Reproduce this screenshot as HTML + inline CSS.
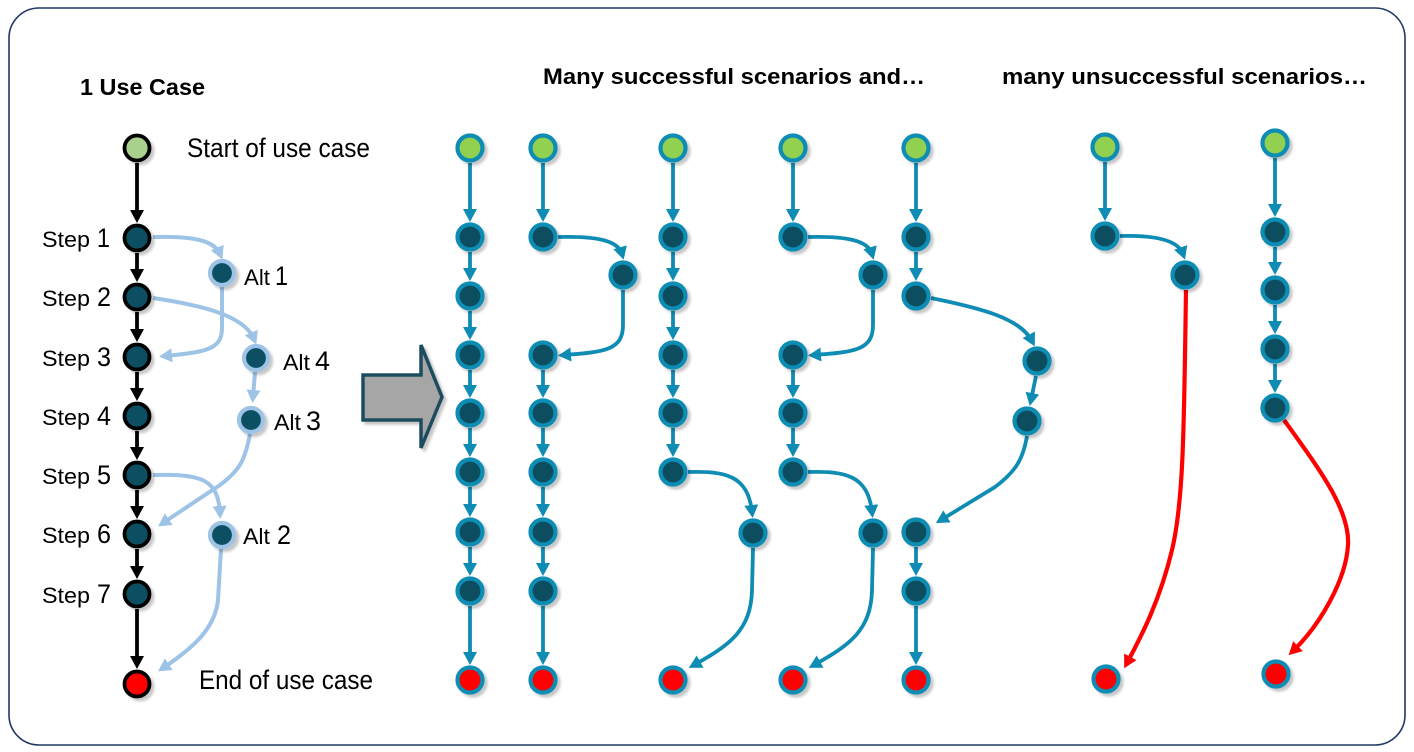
<!DOCTYPE html>
<html><head><meta charset="utf-8"><style>
html,body{margin:0;padding:0;background:#fff;}
svg{display:block;}
text{font-family:"Liberation Sans",Arial,sans-serif;fill:#000;}
.n{fill:#074e61;stroke:#0f8cb4;stroke-width:4.2;}
.g{fill:#92d050;stroke:#0f8cb4;stroke-width:4.2;}
.r{fill:#ff0000;stroke:#0f8cb4;stroke-width:4.2;}
.e{fill:none;stroke:#0f8cb4;stroke-width:3.8;marker-end:url(#mt);}
.k{fill:none;stroke:#000;stroke-width:3.8;marker-end:url(#mk);}
.lb{fill:none;stroke:#9dc3e6;stroke-width:4;marker-end:url(#ml);}
.rd{fill:none;stroke:#ff0000;stroke-width:4.2;marker-end:url(#mr);}
.bn{fill:#0c4f62;stroke:#000;stroke-width:3.8;}
.an{fill:#0c4f62;stroke:#9dc3e6;stroke-width:4.2;}
</style></head><body>
<svg width="1414" height="752" viewBox="0 0 1414 752" xmlns="http://www.w3.org/2000/svg">
<defs>
<filter id="sh" x="-60%" y="-60%" width="220%" height="220%"><feDropShadow dx="3" dy="3" stdDeviation="1.3" flood-color="#000" flood-opacity="0.22"/></filter>
<marker id="mt" viewBox="0 0 13 14" markerWidth="13" markerHeight="14" refX="7" refY="7" orient="auto" markerUnits="userSpaceOnUse"><path d="M0,0 L13,7 L0,14 z" fill="#0f8cb4"/></marker>
<marker id="mk" viewBox="0 0 13 14" markerWidth="13" markerHeight="14" refX="7" refY="7" orient="auto" markerUnits="userSpaceOnUse"><path d="M0,0 L13,7 L0,14 z" fill="#000"/></marker>
<marker id="ml" viewBox="0 0 13 14" markerWidth="13" markerHeight="14" refX="7" refY="7" orient="auto" markerUnits="userSpaceOnUse"><path d="M0,0 L13,7 L0,14 z" fill="#9dc3e6"/></marker>
<marker id="mr" viewBox="0 0 13 14" markerWidth="13" markerHeight="14" refX="7" refY="7" orient="auto" markerUnits="userSpaceOnUse"><path d="M0,0 L13,7 L0,14 z" fill="#ff0000"/></marker>
</defs>

<rect x="9" y="8" width="1396" height="737" rx="30" ry="30" fill="#fff" stroke="#1f3864" stroke-width="1.6"/>

<!-- Headers -->
<text x="80" y="95" font-size="23" font-weight="bold" textLength="125" lengthAdjust="spacingAndGlyphs">1 Use Case</text>
<text x="543" y="84" font-size="22" font-weight="bold" textLength="382" lengthAdjust="spacingAndGlyphs">Many successful scenarios and…</text>
<text x="1002" y="84" font-size="22" font-weight="bold" textLength="365" lengthAdjust="spacingAndGlyphs">many unsuccessful scenarios…</text>

<!-- Left column text -->
<text x="187" y="157" font-size="27" textLength="183" lengthAdjust="spacingAndGlyphs">Start of use case</text>
<text x="199" y="689" font-size="27" textLength="174" lengthAdjust="spacingAndGlyphs">End of use case</text>

<g font-size="22">
<text x="42" y="247" textLength="48" lengthAdjust="spacingAndGlyphs">Step</text>
<text x="42" y="306" textLength="48" lengthAdjust="spacingAndGlyphs">Step</text>
<text x="42" y="366" textLength="48" lengthAdjust="spacingAndGlyphs">Step</text>
<text x="42" y="425" textLength="48" lengthAdjust="spacingAndGlyphs">Step</text>
<text x="42" y="484" textLength="48" lengthAdjust="spacingAndGlyphs">Step</text>
<text x="42" y="543" textLength="48" lengthAdjust="spacingAndGlyphs">Step</text>
<text x="42" y="603" textLength="48" lengthAdjust="spacingAndGlyphs">Step</text>
<text x="244" y="285" textLength="26" lengthAdjust="spacingAndGlyphs">Alt</text>
<text x="283" y="370" textLength="27" lengthAdjust="spacingAndGlyphs">Alt</text>
<text x="274" y="430" textLength="27" lengthAdjust="spacingAndGlyphs">Alt</text>
<text x="243" y="544" textLength="27" lengthAdjust="spacingAndGlyphs">Alt</text>
</g>
<g font-size="27">
<text x="97" y="247" textLength="13" lengthAdjust="spacingAndGlyphs">1</text>
<text x="97" y="306" textLength="14" lengthAdjust="spacingAndGlyphs">2</text>
<text x="97" y="366" textLength="14" lengthAdjust="spacingAndGlyphs">3</text>
<text x="97" y="425" textLength="14" lengthAdjust="spacingAndGlyphs">4</text>
<text x="97" y="484" textLength="14" lengthAdjust="spacingAndGlyphs">5</text>
<text x="97" y="543" textLength="14" lengthAdjust="spacingAndGlyphs">6</text>
<text x="97" y="603" textLength="14" lengthAdjust="spacingAndGlyphs">7</text>
<text x="275" y="285" textLength="13" lengthAdjust="spacingAndGlyphs">1</text>
<text x="315" y="370" textLength="15" lengthAdjust="spacingAndGlyphs">4</text>
<text x="306" y="430" textLength="15" lengthAdjust="spacingAndGlyphs">3</text>
<text x="277" y="544" textLength="14" lengthAdjust="spacingAndGlyphs">2</text>
</g>

<!-- Left column edges -->
<path class="k" d="M137,163 L137,217"/>
<path class="k" d="M137,253 L137,276"/>
<path class="k" d="M137,312 L137,336"/>
<path class="k" d="M137,372 L137,395"/>
<path class="k" d="M137,431 L137,454"/>
<path class="k" d="M137,490 L137,513"/>
<path class="k" d="M137,549 L137,573"/>
<path class="k" d="M137,609 L137,663"/>

<path class="lb" d="M153,237 C192,236 214,240 220,254"/>
<path class="lb" d="M222,287 L222,328 C222,350 205,352 165,356"/>
<path class="lb" d="M153,298 C200,305 244,315 254,339"/>
<path class="lb" d="M255,372 L253,397"/>
<path class="lb" d="M250,434 C245,460 240,470 220,485 L163,523"/>
<path class="lb" d="M153,475 C200,474 218,478 220,513"/>
<path class="lb" d="M221,549 L218,600 C215,630 190,650 163,668"/>

<!-- Left nodes -->
<g filter="url(#sh)">
<circle cx="137" cy="148" r="12.5" fill="#a9d18e" stroke="#000" stroke-width="3.8"/>
<circle class="bn" cx="137" cy="238" r="12.5"/>
<circle class="bn" cx="137" cy="297" r="12.5"/>
<circle class="bn" cx="137" cy="357" r="12.5"/>
<circle class="bn" cx="137" cy="416" r="12.5"/>
<circle class="bn" cx="137" cy="475" r="12.5"/>
<circle class="bn" cx="137" cy="534" r="12.5"/>
<circle class="bn" cx="137" cy="594" r="12.5"/>
<circle cx="137" cy="684" r="12.5" fill="#ff0000" stroke="#000" stroke-width="3.8"/>
<circle class="an" cx="222" cy="273" r="12"/>
<circle class="an" cx="256" cy="358" r="12"/>
<circle class="an" cx="251" cy="420" r="12"/>
<circle class="an" cx="222" cy="535" r="12"/>
</g>

<!-- Big arrow -->
<path d="M363,375 L421,375 L421,345 L442,397 L421,448 L421,420 L363,420 Z" fill="#a6a6a6" stroke="#1f4e5f" stroke-width="3.5" stroke-linejoin="miter" filter="url(#sh)"/>

<!-- Column 1 x=470 -->
<path class="e" d="M470,163 L470,216"/>
<path class="e" d="M470,252 L470,275"/>
<path class="e" d="M470,311 L470,334"/>
<path class="e" d="M470,370 L470,392"/>
<path class="e" d="M470,428 L470,451"/>
<path class="e" d="M470,487 L470,511"/>
<path class="e" d="M470,547 L470,570"/>
<path class="e" d="M470,606 L470,659"/>

<!-- Column 2 x=543 -->
<path class="e" d="M543,163 L543,216"/>
<path class="e" d="M558,237 C595,236 618,240 622,254"/>
<path class="e" d="M623,290 L623,325 C623,350 605,352 564,355"/>
<path class="e" d="M543,370 L543,392"/>
<path class="e" d="M543,428 L543,451"/>
<path class="e" d="M543,487 L543,511"/>
<path class="e" d="M543,547 L543,570"/>
<path class="e" d="M543,606 L543,659"/>

<!-- Column 3 x=673 -->
<path class="e" d="M673,163 L673,216"/>
<path class="e" d="M673,252 L673,275"/>
<path class="e" d="M673,311 L673,334"/>
<path class="e" d="M673,370 L673,392"/>
<path class="e" d="M673,428 L673,451"/>
<path class="e" d="M688,472 C725,471 748,475 752,512"/>
<path class="e" d="M753,548 L752,590 C751,630 730,645 694,665"/>

<!-- Column 4 x=793 -->
<path class="e" d="M793,163 L793,216"/>
<path class="e" d="M808,237 C845,236 868,240 872,254"/>
<path class="e" d="M873,290 L873,325 C873,350 855,352 814,355"/>
<path class="e" d="M793,370 L793,392"/>
<path class="e" d="M793,428 L793,451"/>
<path class="e" d="M808,472 C845,471 868,475 872,512"/>
<path class="e" d="M873,548 L872,590 C871,630 850,645 814,665"/>

<!-- Column 5 x=916 -->
<path class="e" d="M916,163 L916,216"/>
<path class="e" d="M916,252 L916,275"/>
<path class="e" d="M931,298 C980,308 1020,318 1032,341"/>
<path class="e" d="M1036,376 L1031,400"/>
<path class="e" d="M1027,436 C1023,460 1015,472 995,487 L941,520"/>
<path class="e" d="M916,547 L916,570"/>
<path class="e" d="M916,606 L916,659"/>

<!-- Column 6 x=1105 -->
<path class="e" d="M1105,162 L1105,215"/>
<path class="e" d="M1120,236 C1155,235 1178,240 1183,254"/>
<path class="rd" d="M1186,290 C1184,420 1184,500 1172,550 C1160,600 1142,635 1127,663"/>

<!-- Column 7 x=1275 -->
<path class="e" d="M1275,158 L1275,211"/>
<path class="e" d="M1275,247 L1275,269"/>
<path class="e" d="M1275,305 L1275,328"/>
<path class="e" d="M1275,364 L1275,387"/>
<path class="rd" d="M1284,420 C1320,470 1350,510 1348,545 C1346,580 1320,625 1293,651"/>

<!-- Middle/right nodes -->
<g filter="url(#sh)">
<circle class="g" cx="470" cy="148" r="12.5"/>
<circle class="n" cx="470" cy="237" r="12.5"/>
<circle class="n" cx="470" cy="296" r="12.5"/>
<circle class="n" cx="470" cy="355" r="12.5"/>
<circle class="n" cx="470" cy="413" r="12.5"/>
<circle class="n" cx="470" cy="472" r="12.5"/>
<circle class="n" cx="470" cy="532" r="12.5"/>
<circle class="n" cx="470" cy="591" r="12.5"/>
<circle class="r" cx="470" cy="680" r="12.5"/>

<circle class="g" cx="543" cy="148" r="12.5"/>
<circle class="n" cx="543" cy="237" r="12.5"/>
<circle class="n" cx="623" cy="275" r="12.5"/>
<circle class="n" cx="543" cy="355" r="12.5"/>
<circle class="n" cx="543" cy="413" r="12.5"/>
<circle class="n" cx="543" cy="472" r="12.5"/>
<circle class="n" cx="543" cy="532" r="12.5"/>
<circle class="n" cx="543" cy="591" r="12.5"/>
<circle class="r" cx="543" cy="680" r="12.5"/>

<circle class="g" cx="673" cy="148" r="12.5"/>
<circle class="n" cx="673" cy="237" r="12.5"/>
<circle class="n" cx="673" cy="296" r="12.5"/>
<circle class="n" cx="673" cy="355" r="12.5"/>
<circle class="n" cx="673" cy="413" r="12.5"/>
<circle class="n" cx="673" cy="472" r="12.5"/>
<circle class="n" cx="753" cy="533" r="12.5"/>
<circle class="r" cx="673" cy="680" r="12.5"/>

<circle class="g" cx="793" cy="148" r="12.5"/>
<circle class="n" cx="793" cy="237" r="12.5"/>
<circle class="n" cx="873" cy="275" r="12.5"/>
<circle class="n" cx="793" cy="355" r="12.5"/>
<circle class="n" cx="793" cy="413" r="12.5"/>
<circle class="n" cx="793" cy="472" r="12.5"/>
<circle class="n" cx="873" cy="533" r="12.5"/>
<circle class="r" cx="793" cy="680" r="12.5"/>

<circle class="g" cx="916" cy="148" r="12.5"/>
<circle class="n" cx="916" cy="237" r="12.5"/>
<circle class="n" cx="916" cy="296" r="12.5"/>
<circle class="n" cx="1037" cy="361" r="12.5"/>
<circle class="n" cx="1027" cy="421" r="12.5"/>
<circle class="n" cx="916" cy="532" r="12.5"/>
<circle class="n" cx="916" cy="591" r="12.5"/>
<circle class="r" cx="916" cy="680" r="12.5"/>

<circle class="g" cx="1105" cy="147" r="12.5"/>
<circle class="n" cx="1105" cy="236" r="12.5"/>
<circle class="n" cx="1185" cy="275" r="12.5"/>
<circle class="r" cx="1106" cy="679" r="12.5"/>

<circle class="g" cx="1275" cy="143" r="12.5"/>
<circle class="n" cx="1275" cy="232" r="12.5"/>
<circle class="n" cx="1275" cy="290" r="12.5"/>
<circle class="n" cx="1275" cy="349" r="12.5"/>
<circle class="n" cx="1275" cy="408" r="12.5"/>
<circle class="r" cx="1276" cy="674" r="12.5"/>
</g>
</svg>
</body></html>
